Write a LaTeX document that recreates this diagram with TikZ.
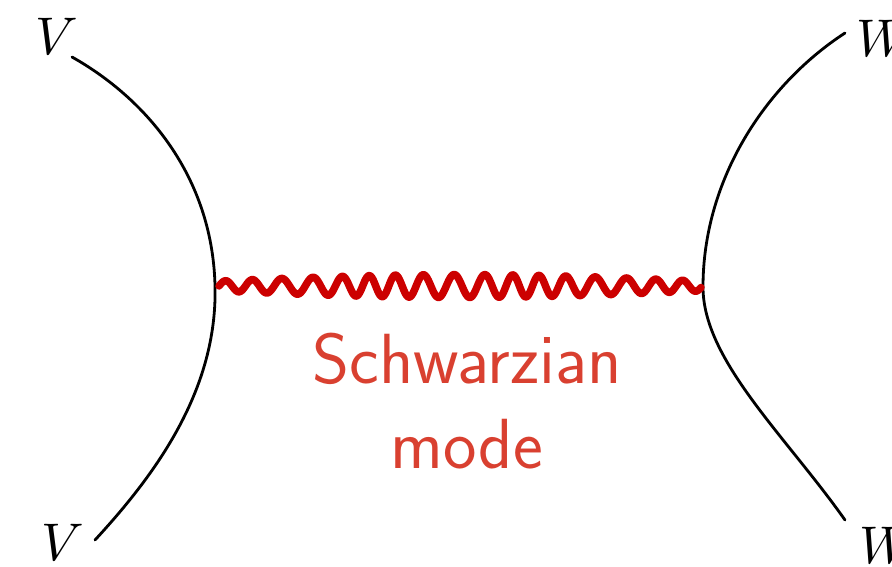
\documentclass[tikz,border=0pt]{standalone}
\usetikzlibrary{calc}
\definecolor{wavered}{HTML}{CC0000}
\definecolor{labelred}{HTML}{D94030}
\tikzset{
  brane/.style={black, line width=2.8pt, line cap=round},
  schw/.style={wavered, line width=7.5pt, line cap=round, line join=round},
  oplabel/.style={inner sep=0pt, scale=5.3},
  modelabel/.style={labelred, align=center, inner sep=0pt, font=\sffamily\fontsize{71}{85}\selectfont}
}
\begin{document}
\begin{tikzpicture}[x=1pt,y=-1pt]
\useasboundingbox (0,0) rectangle (892,566);
% labels
\node[oplabel] (V1) at (57,36) {$V$};
\node[oplabel] (V2) at (63,542) {$V$};
\node[oplabel, anchor=west] (W1) at (855,38) {$W$};
\node[oplabel, anchor=west] (W2) at (858,545) {$W$};
% branes
\coordinate (lt) at (72,57);
\coordinate (lm) at (215,285);
\coordinate (lb) at (95,540);
\coordinate (rt) at (845,33);
\coordinate (rm) at (703,287);
\coordinate (rb) at (845,520);
\draw[brane] (lt) .. controls (145,98) and (212,175) .. (lm)
             .. controls (218,390) and (155,475) .. (lb);
\draw[brane] (rt) .. controls (765,85) and (703,180) .. (rm)
             .. controls (703,360) and (785,435) .. (rb);
% Schwarzian mode
\draw[schw] plot[domain=219:701, samples=600]
  (\x, {286 - (5+6.5*sin((\x-219)/482*180))*sin((\x-219)/28.5*360 + 30*sin((\x-219)*2.3))});
\node[modelabel] (mode) at (467,401) {Schwarzian\\mode};
\end{tikzpicture}
\end{document}
